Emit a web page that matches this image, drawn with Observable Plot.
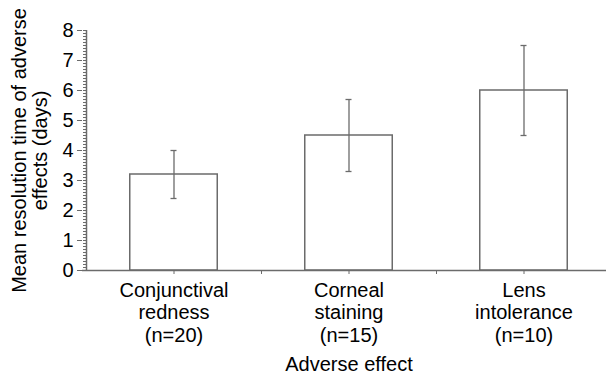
<!DOCTYPE html>
<html>
<head>
<meta charset="utf-8">
<script src="https://cdn.jsdelivr.net/npm/d3@7"></script>
<script src="https://cdn.jsdelivr.net/npm/@observablehq/plot@0.6"></script>
<style>
  html, body { margin: 0; padding: 0; background: #fff; }
  svg { font-family: "Liberation Sans", Arial, Helvetica, sans-serif; overflow: visible; }
</style>
</head>
<body>
<div id="chart"></div>
<script>
const categories = ["Conjunctival\nredness\n(n=20)", "Corneal\nstaining\n(n=15)", "Lens\nintolerance\n(n=10)"];
const means = [3.2, 4.5, 6.0];
const errLow = [2.4, 3.3, 4.5];
const errHigh = [4.0, 5.7, 7.5];
const yTicks = [0, 1, 2, 3, 4, 5, 6, 7, 8];
const xLabel = "Adverse effect";
const yLabel = "Mean resolution time of adverse\neffects (days)";

const data = categories.map((c, i) => ({i, label: c, mean: means[i], lo: errLow[i], hi: errHigh[i]}));
const gray = "#6b6b6b";

const chart = Plot.plot({
  width: 606,
  height: 379,
  marginLeft: 82,
  marginRight: 0,
  marginTop: 30,
  marginBottom: 109,
  style: {fontFamily: "Liberation Sans, Arial, sans-serif", background: "#fff", color: "#000"},
  x: {type: "linear", domain: [0, 3], range: [86, 611], axis: null},
  y: {domain: [0, 8], axis: null},
  marks: [
    Plot.rectY(data, {x1: d => d.i + 0.25, x2: d => d.i + 0.75, y: "mean", fill: "white", stroke: gray, strokeWidth: 1.5}),
    Plot.ruleX(data, {x: d => d.i + 0.5, y1: "lo", y2: "hi", stroke: gray, strokeWidth: 1.3}),
    Plot.ruleY(data, {y: "hi", x1: d => d.i + 0.5, x2: d => d.i + 0.5, insetLeft: -3, insetRight: -3, stroke: gray, strokeWidth: 1.3}),
    Plot.ruleY(data, {y: "lo", x1: d => d.i + 0.5, x2: d => d.i + 0.5, insetLeft: -3, insetRight: -3, stroke: gray, strokeWidth: 1.3}),
    // minor ticks
    Plot.ruleY(d3.range(0, 81).map(v => v / 10), {y: d => d, x1: 0, x2: 0, insetLeft: -3, stroke: gray, strokeWidth: 1}),
    // major ticks + labels
    Plot.axisY({ticks: yTicks, tickSize: 5, tickPadding: 4, fontSize: 20, stroke: gray, label: null, tickFormat: d => d}),
    Plot.ruleX([0], {y1: 0, y2: 8, stroke: gray, strokeWidth: 1.5}),
    Plot.ruleY([0], {stroke: gray, strokeWidth: 1.5}),
    // x ticks at centers and boundaries
    Plot.ruleX([0.5, 1, 1.5, 2, 2.5], {x: d => d, y1: 0, y2: 0, insetBottom: -4, stroke: gray, strokeWidth: 1}),
    Plot.text(data, {x: d => d.i + 0.5, y: 0, text: "label", lineAnchor: "top", dy: 10, lineHeight: 1.14, fontSize: 20, fill: "#000"}),
    Plot.text([xLabel], {frameAnchor: "bottom", x: 1.5, dy: 100, lineAnchor: "bottom", fontSize: 20, fill: "#000"}),
    Plot.text([yLabel], {frameAnchor: "left", y: 4, dx: -53, rotate: -90, textAnchor: "middle", lineAnchor: "middle", lineHeight: 1.05, fontSize: 20, fill: "#000"})
  ]
});
document.getElementById("chart").appendChild(chart);
</script>
</body>
</html>
